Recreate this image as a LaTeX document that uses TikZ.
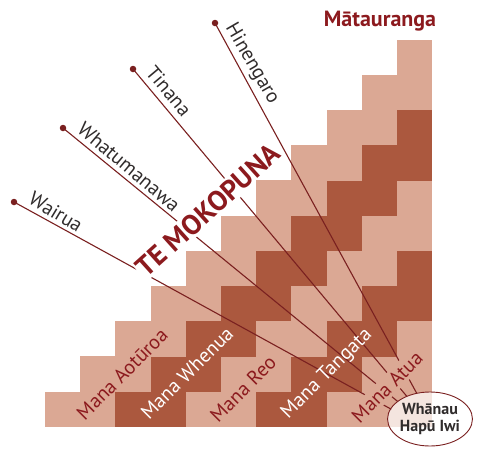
\documentclass[tikz,border=0pt]{standalone}
\usepackage{fontspec}
\setmainfont{PT Sans}
\usepackage{tikz}
\usetikzlibrary{positioning,shapes.geometric}

\definecolor{cellpale}{RGB}{219,168,148}
\definecolor{cellrust}{RGB}{171,88,62}
\definecolor{mokored}{RGB}{140,26,30}
\definecolor{spokered}{RGB}{122,32,32}
\definecolor{labelgray}{RGB}{48,44,44}

\tikzset{
  manalabel/.style={rotate=45,font=\fontsize{20}{20}\selectfont,inner sep=1pt},
  spokelabel/.style={font=\fontsize{20}{20}\selectfont,text=labelgray,inner sep=1pt},
  spokedot/.style={circle,fill=spokered,inner sep=0pt,minimum size=6.5pt},
  spoke/.style={draw=spokered,line width=1.1pt},
}

\begin{document}
\begin{tikzpicture}[x=1pt,y=-1pt]
\useasboundingbox (0,0) rectangle (480,458);

% staircase of cells
\foreach \c in {0,...,10}{
  \foreach \r in {0,...,\c}{
    \pgfmathtruncatemacro{\band}{mod(\c-\r,4)}
    \ifnum\band<2 \def\cellcol{cellpale}\else\def\cellcol{cellrust}\fi
    \fill[\cellcol] ({45+35.2*\c},{427-35.2*\r}) rectangle ++(35.4,-35.4);
  }
}
\fill[cellpale] (397,427) rectangle ++(35.4,-35.4);

\node[font=\bfseries\fontsize{22}{22}\selectfont,text=mokored] (matauranga) at (380,21) {Mātauranga};

\node[rotate=42,font=\bfseries\fontsize{28}{28}\selectfont,text=mokored,inner sep=2pt] (mokopuna) at (208,210) {TE MOKOPUNA};
\node[manalabel,text=mokored,inner sep=3pt] (atua) at (387,387) {Mana Atua};

% spoke labels and dots
\node[spokelabel,rotate=-60] (hinengaro) at (252,64) {Hinengaro};
\node[spokelabel,rotate=-50] (tinana) at (169,91) {Tinana};
\node[spokelabel,rotate=-40] (whatumanawa) at (129,167) {Whatumanawa};
\node[spokelabel,rotate=-31] (wairua) at (56,212) {Wairua};

\node[spokedot] (dHinengaro) at (215,23) {};
\node[spokedot] (dTinana) at (133,69) {};
\node[spokedot] (dWhatumanawa) at (63,128) {};
\node[spokedot] (dWairua) at (14,202) {};

\coordinate (hub) at (440,436);

\begin{scope}[even odd rule]
  \clip (0,0) rectangle (480,458)
    (mokopuna.north west) -- (mokopuna.north east) -- (mokopuna.south east) -- (mokopuna.south west) -- cycle
    (atua.north west) -- (atua.north east) -- (atua.south east) -- (atua.south west) -- cycle
    (430,419) ellipse (41pt and 27pt);
  \path[spoke]
    (dHinengaro.center) edge (hub)
    (dTinana.center) edge (hub)
    (dWhatumanawa.center) edge (hub)
    (dWairua.center) edge (hub);
\end{scope}

% mana labels, over the spokes
\node[manalabel,text=mokored] (aoturoa) at (122,374) {Mana Aotūroa};
\node[manalabel,text=white] (whenua) at (187,373) {Mana Whenua};
\node[manalabel,text=mokored] (reo) at (243,389) {Mana Reo};
\node[manalabel,text=white] (tangata) at (327,374) {Mana Tangata};

\node[ellipse,draw=spokered,line width=0.9pt,fill=white,fill opacity=0.7,text opacity=1,
  minimum width=82pt,minimum height=54pt,inner sep=0pt,align=center,
  font=\bfseries\fontsize{16}{17}\selectfont,text=labelgray] (whanau) at (430,419) {Whānau\\Hapū Iwi};

\end{tikzpicture}
\end{document}
